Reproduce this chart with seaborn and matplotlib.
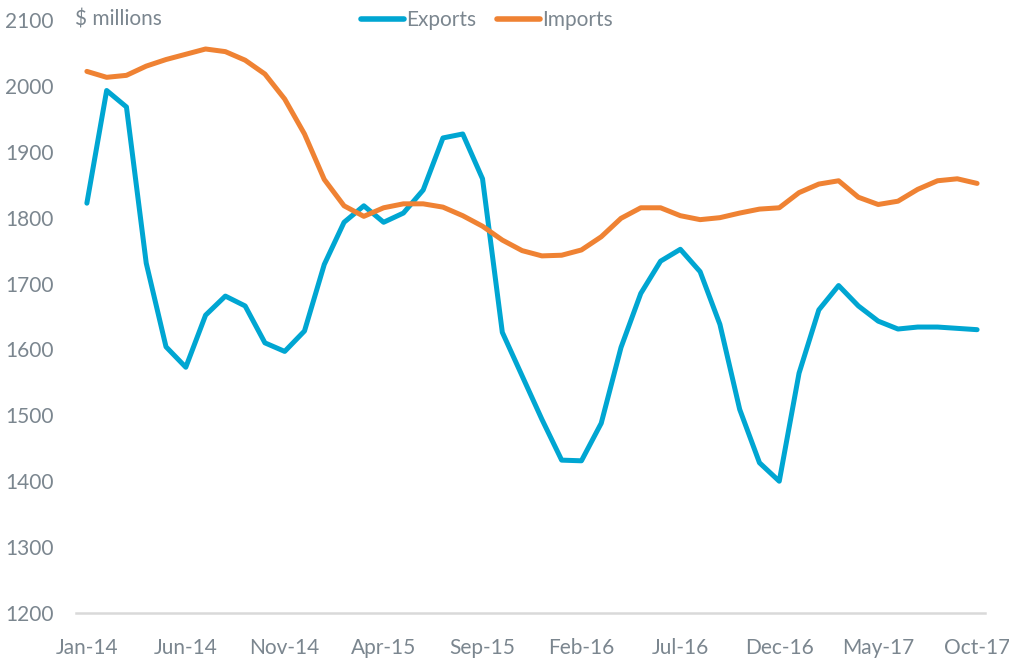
import matplotlib
matplotlib.use("Agg")
import matplotlib.pyplot as plt
import seaborn as sns
import pandas as pd
import numpy as np

months = pd.date_range("2014-01-01", "2017-10-01", freq="MS").strftime("%b-%y").tolist()

exports = [1822, 1993, 1968, 1731, 1604, 1573, 1652, 1681, 1666, 1610,
           1597, 1628, 1729, 1793, 1818, 1793, 1807, 1842, 1921, 1927,
           1859, 1626, 1560, 1494, 1432, 1431, 1488, 1603, 1685, 1734,
           1752, 1718, 1638, 1509, 1428, 1400, 1564, 1660, 1697, 1666,
           1643, 1631, 1634, 1634, 1632, 1630]
imports = [2022, 2013, 2016, 2030, 2040, 2048, 2056, 2052, 2039, 2018,
           1980, 1927, 1858, 1818, 1802, 1815, 1821, 1821, 1816, 1803,
           1787, 1766, 1750, 1742, 1743, 1751, 1771, 1799, 1815, 1815,
           1803, 1797, 1800, 1807, 1813, 1815, 1838, 1851, 1856, 1831,
           1820, 1825, 1843, 1856, 1859, 1852]

tick_labels = ["Jan-14", "Jun-14", "Nov-14", "Apr-15", "Sep-15",
               "Feb-16", "Jul-16", "Dec-16", "May-17", "Oct-17"]
y_ticks = [1200, 1300, 1400, 1500, 1600, 1700, 1800, 1900, 2000, 2100]

df = pd.DataFrame({"idx": np.arange(len(months)), "month": months,
                   "Exports": exports, "Imports": imports})
long = df.melt(id_vars=["idx", "month"], value_vars=["Exports", "Imports"],
               var_name="series", value_name="value")

sns.set_theme(style="white")
plt.rcParams["font.family"] = ["Lato", "DejaVu Sans"]
text_color = "#7b868f"
fs = 15

fig = plt.figure(figsize=(10.09, 6.61), dpi=100)
ax = fig.add_axes([76 / 1009, 48 / 661, (985 - 76) / 1009, (613 - 20) / 661])

palette = {"Exports": "#00a6d2", "Imports": "#ef8233"}
sns.lineplot(data=long, x="idx", y="value", hue="series", palette=palette,
             linewidth=3.6, ax=ax, legend=True)

ax.set_xlim(-0.55, 45.4)
ax.set_ylim(1200, 2100)
ax.set_yticks(y_ticks)
ax.set_yticklabels([str(v) for v in y_ticks], fontsize=fs, color=text_color)
tick_pos = [months.index(t) for t in tick_labels]
ax.set_xticks(tick_pos)
ax.set_xticklabels(tick_labels, fontsize=fs, color=text_color)
ax.tick_params(axis="y", length=0, pad=16)
ax.tick_params(axis="x", length=0, pad=18)
ax.set_xlabel("")
ax.set_ylabel("")
for s in ["left", "right", "top"]:
    ax.spines[s].set_visible(False)
ax.spines["bottom"].set_color("#d9d9d9")
ax.spines["bottom"].set_linewidth(1.8)
ax.grid(False)

fig.text(75 / 1009, 1 - 20 / 661, "$ millions", fontsize=fs, color=text_color,
         ha="left", va="center")

handles, labels = ax.get_legend_handles_labels()
leg = ax.legend(handles, labels, loc="center", bbox_to_anchor=(487 / 1009, 1 - 20 / 661),
                bbox_transform=fig.transFigure, ncol=2, frameon=False,
                fontsize=fs, handlelength=2.05, handletextpad=0.12,
                columnspacing=1.0, borderpad=0, borderaxespad=0)
for t in leg.get_texts():
    t.set_color(text_color)
for l in leg.get_lines():
    l.set_linewidth(4)
    l.set_solid_capstyle("round")

fig.savefig("out.png", dpi=100)
